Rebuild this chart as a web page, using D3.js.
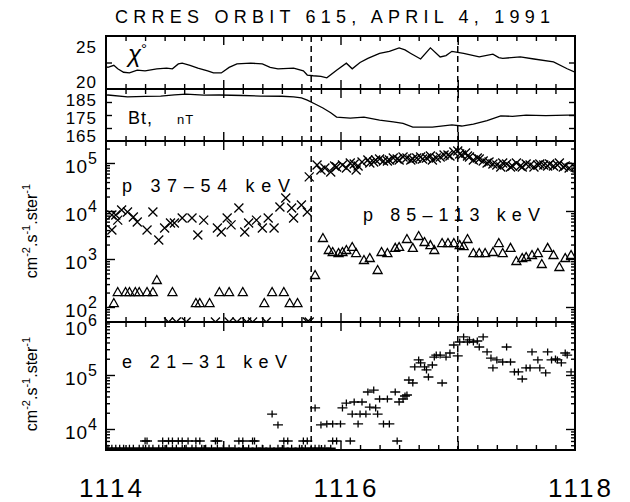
<!DOCTYPE html>
<html>
<head>
<meta charset="utf-8">
<script src="https://cdn.jsdelivr.net/npm/d3@7"></script>
<style>
  body { margin: 0; background: #fff; }
  text { font-family: "Liberation Sans", Arial, sans-serif; fill: #000; }
</style>
</head>
<body>
<svg id="chart" width="630" height="502"></svg>
<script>
// time is seconds after 11:14:00 UT, axis labelled HHMM
const xTickLabels = ["1114", "1116", "1118"]
const xLabelTimes = [0, 120, 240]
const dashTimes = [105, 180]

// pitch angle chi (deg)
const chiData = [[0,22.2],[1,22.1],[4,22.4],[6,21.9],[9,21.4],[12,21.3],[16,21.7],[20,21.6],[26,21.9],[31,22.0],
  [34,21.9],[37,22.6],[39,22.7],[43,22.4],[47,22.0],[52,21.6],[55,21.3],[59,21.3],[63,22.1],[67,22.6],[74,22.7],
  [80,22.6],[84,22.1],[88,21.9],[96,22.0],[101,21.6],[103,21.0],[106,20.9],[110,20.8],[113,20.6],[118,21.7],
  [123,22.7],[126,21.9],[130,22.8],[134,23.4],[140,24.1],[145,24.4],[150,24.9],[153,24.6],[156,24.1],[161,23.3],
  [166,24.9],[171,23.6],[174,23.8],[177,24.4],[183,24.1],[191,23.6],[198,24.0],[201,23.5],[203,23.4],[212,23.6],
  [219,23.3],[229,22.9],[236,21.9],[240,21.4]]

// total field Bt (nT)
const btData = [[0,188],[1,188.1],[11,187.0],[20,187.3],[28,187.5],[35,188.2],[41,188.6],[50,188.0],[58,188.1],
  [70,187.8],[79,187.5],[90,187.4],[96,187.0],[100,186.5],[103,185.2],[107,183.0],[111,180.7],[115,178.0],
  [118,175.6],[125,175.0],[132,175.5],[140,173.9],[147,172.8],[152,172.0],[157,169.9],[167,169.9],[177,171.1],
  [182,170.5],[188,171.6],[195,173.5],[202,176.2],[208,176.0],[215,176.7],[225,176.4],[236,176.7],[240,176.7]]

// p 37-54 keV flux
const p37Data = [[3,8260],[3,4020],[5,8260],[6,6460],[8,10500],[11,9550],[14,7500],[16,5890],[21,4020],[24,9550],
  [27,2490],[30,4430],[33,5620],[35,5620],[39,7150],[44,7150],[47,3160],[50,6460],[57,4430],[59,3650],[62,7150],
  [64,5130],[68,11500],[71,3650],[73,5620],[77,6460],[80,4430],[83,7150],[86,4430],[89,12100],[92,18600],
  [95,11500],[96,7150],[100,13300],[103,9550],[104,51300],
  [108,90800],[110,71400],[112,78700],[115,64900],[117,86600],[118,82500],[121,90800],[123,78700],[125,100000],
  [127,95300],[128,71400],[129,86600],[131,105000],[134,115000],[135,100000],[137,105000],[138,115000],
  [140,121000],[142,110000],[144,110000],[145,115000],[147,127000],[149,121000],[150,115000],[152,133000],
  [154,127000],[156,115000],[157,121000],[159,127000],[161,133000],[162,121000],[164,127000],[166,140000],
  [167,115000],[169,127000],[171,133000],[173,147000],[175,147000],[176,140000],[178,170000],[180,178000],
  [181,154000],[182,147000],[184,162000],[185,140000],[186,133000],[188,115000],[190,127000],[191,121000],
  [193,110000],[195,100000],[196,105000],[198,95300],[200,90800],[202,82500],[203,100000],[205,95300],
  [207,82500],[208,86600],[210,100000],[212,86600],[213,82500],[215,95300],[217,90800],[219,82500],[221,90800],
  [222,95300],[224,90800],[226,86600],[227,95300],[229,86600],[231,90800],[232,100000],[234,82500],[235,86600],
  [237,78700],[240,82500]]
const p37Floor = [32, 36, 41, 56, 63, 67, 72, 75, 82, 103, 104]

// p 85-113 keV flux
const p85Data = [[4,121],[6,205],[10,205],[12,205],[15,205],[17,205],[21,205],[24,205],[26,365],[34,205],
  [46,121],[48,121],[53,121],[58,205],[63,205],[70,205],[81,121],[85,205],[91,205],[94,121],[98,121],
  [107,464],[111,2740],[114,1540],[116,1400],[119,1330],[121,1400],[123,1540],[126,1780],[128,1330],[132,953],
  [135,1050],[139,590],[141,1400],[144,1330],[148,1700],[150,1780],[154,2610],[157,1700],[160,3010],[163,2260],
  [166,1950],[168,1540],[172,2150],[175,2150],[178,2150],[181,1950],[183,1860],[185,2610],[188,1330],[191,1330],
  [194,1330],[198,1400],[201,2150],[203,1330],[207,1700],[210,908],[213,1050],[215,1100],[218,1210],[221,1330],
  [223,787],[226,1700],[229,1210],[232,681],[235,1050],[238,1210]]

// e 21-31 keV flux
const e21Data = [[20,6000],[21,6000],[29,6000],[32,6000],[34,6000],[37,6000],[39,6000],[42,6000],[46,6000],
  [48,6000],[56,6000],[57,6000],[68,6000],[70,6000],[75,6000],[76,6000],[85,18900],[88,11900],[91,6000],
  [93,6000],[101,6000],[103,6000],[107,24500],[110,11900],[113,12400],[116,12400],[116,6000],[118,6000],
  [120,12400],[121,24500],[123,30200],[125,6000],[126,18900],[127,31600],[129,12400],[130,18900],[131,31600],
  [133,18900],[134,48400],[135,25500],[137,52600],[138,24500],[139,18900],[140,35900],[142,12400],[144,35900],
  [145,12400],[148,48400],[149,6000],[150,31600],[152,35900],[153,40800],[154,42600],[155,80700],[157,71100],
  [158,141000],[160,190000],[161,167000],[163,141000],[164,124000],[165,91800],[167,153000],[168,215000],
  [169,234000],[171,234000],[172,71100],[174,215000],[176,255000],[178,359000],[180,225000],[181,408000],
  [183,506000],[185,408000],[186,445000],[188,408000],[190,426000],[191,330000],[193,506000],[195,267000],
  [197,206000],[198,135000],[200,190000],[203,174000],[205,330000],[207,174000],[209,114000],[211,114000],
  [213,84300],[215,135000],[217,135000],[218,267000],[221,190000],[222,135000],[225,109000],[226,267000],
  [228,190000],[230,198000],[231,190000],[233,167000],[235,255000],[236,234000],[238,114000]]
const e21Floor = [1, 3, 5, 7, 9, 12, 14, 17, 19, 22, 24, 27, 29, 31, 34, 36, 39, 41, 44, 46, 49, 51, 54, 57,
  60, 63, 66, 70, 73, 77, 80, 84, 88, 91, 95, 99, 102, 105, 107, 109, 112, 115]
const e21FloorValue = 4400

const svg = d3.select('#chart')

const left = 106, right = 575
const x = d3.scaleLinear().domain([0, 240]).range([left, right])

const yChi = d3.scaleLinear().domain([19, 26.6]).range([89, 36])
const yBt = d3.scaleLinear().domain([162, 191.5]).range([141, 89])
const yP = d3.scaleLog().domain([48.7, 2.87e5]).range([322, 141])
const yE = d3.scaleLog().domain([4084, 9.57e5]).range([450, 322])

const panels = [
  {y: yChi, top: 36, bottom: 89},
  {y: yBt, top: 89, bottom: 141},
  {y: yP, top: 141, bottom: 322},
  {y: yE, top: 322, bottom: 450}
]

// clip paths
const defs = svg.append('defs')
panels.forEach((p, i) => {
  defs.append('clipPath').attr('id', 'clip' + i)
    .append('rect').attr('x', left).attr('y', p.top).attr('width', right - left).attr('height', p.bottom - p.top)
})

// x ticks, inward, top and bottom of each panel
const minorT = d3.range(10, 240, 10).filter(t => t % 60)
const majorT = [60, 120, 180]

function noDomain(g) {
  g.select('.domain').remove()
  g.selectAll('.tick line').attr('stroke', '#000').attr('stroke-width', 1.4)
  g.selectAll('.tick text').remove()
}

panels.forEach(p => {
  [[minorT, 5], [majorT, 9]].forEach(([vals, len]) => {
    svg.append('g').attr('transform', `translate(0,${p.top})`)
      .call(d3.axisTop(x).tickValues(vals).tickSize(-len)).call(noDomain)
    svg.append('g').attr('transform', `translate(0,${p.bottom})`)
      .call(d3.axisBottom(x).tickValues(vals).tickSize(-len)).call(noDomain)
  })
})

// y ticks
function yTicks(scale, vals, len) {
  svg.append('g').attr('transform', `translate(${left},0)`)
    .call(d3.axisLeft(scale).tickValues(vals).tickSize(-len)).call(noDomain)
  svg.append('g').attr('transform', `translate(${right},0)`)
    .call(d3.axisRight(scale).tickValues(vals).tickSize(-len)).call(noDomain)
}
yTicks(yChi, [yChi.invert(62.5)], 6)
yTicks(yBt, [102, 115, 128].map(v => yBt.invert(v)), 6)

function logTicks(scale) {
  const [lo, hi] = scale.domain()
  const major = [], minor = []
  for (let k = 1; k <= 6; k++) {
    for (let m = 1; m <= 9; m++) {
      const v = m * Math.pow(10, k)
      if (v <= lo || v >= hi) continue
      if (m === 1) major.push(v); else minor.push(v)
    }
  }
  yTicks(scale, major, 9)
  yTicks(scale, minor, 4)
}
logTicks(yP)
logTicks(yE)

// frames
panels.forEach(p => {
  svg.append('rect').attr('x', left).attr('y', p.top).attr('width', right - left).attr('height', p.bottom - p.top)
    .attr('fill', 'none').attr('stroke', '#000').attr('stroke-width', 2)
})

// dashed event lines
svg.selectAll('.evt').data(dashTimes).enter().append('line')
  .attr('x1', d => x(d)).attr('x2', d => x(d)).attr('y1', 36).attr('y2', 450)
  .attr('stroke', '#000').attr('stroke-width', 1.5).attr('stroke-dasharray', '6,4')

// lines
const chiLine = d3.line().x(d => x(d[0])).y(d => yChi(d[1]))
svg.append('path').datum(chiData).attr('d', chiLine).attr('clip-path', 'url(#clip0)')
  .attr('fill', 'none').attr('stroke', '#000').attr('stroke-width', 1.3)
const btLine = d3.line().x(d => x(d[0])).y(d => yBt(d[1]))
svg.append('path').datum(btData).attr('d', btLine).attr('clip-path', 'url(#clip1)')
  .attr('fill', 'none').attr('stroke', '#000').attr('stroke-width', 1.3)

// markers
const crossPath = 'M-4.5,-4.5L4.5,4.5M-4.5,4.5L4.5,-4.5'
const triPath = 'M0,-4.5L4.5,3.5L-4.5,3.5Z'
const plusPath = 'M-5,0H5M0,-3.5V3.5'

function markers(data, scale, path, clip) {
  svg.append('g').attr('clip-path', `url(#${clip})`)
    .selectAll('path').data(data).enter().append('path')
    .attr('d', path)
    .attr('transform', d => `translate(${x(d[0])},${scale(d[1])})`)
    .attr('fill', 'none').attr('stroke', '#000').attr('stroke-width', 1.3)
}
markers(p37Data, yP, crossPath, 'clip2')
markers(p37Floor.map(t => [t, yP.domain()[0]]), yP, crossPath, 'clip2')
markers(p85Data, yP, triPath, 'clip2')
markers(e21Data, yE, plusPath, 'clip3')
markers(e21Floor.map(t => [t, e21FloorValue]), yE, plusPath, 'clip3')

// y tick labels
function linLabels(scale, vals) {
  svg.append('g').selectAll('text').data(vals).enter().append('text')
    .attr('x', 97).attr('y', d => scale(d) + 6)
    .attr('text-anchor', 'end').attr('font-size', 17).attr('letter-spacing', 1)
    .text(d => d)
}
linLabels(yChi, [20, 25])
linLabels(yBt, [165, 175, 185])

function logLabels(scale, exps, shift) {
  const t = svg.append('g').selectAll('text').data(exps).enter().append('text')
    .attr('x', 98).attr('y', d => scale(Math.pow(10, d)) + 10 + (shift[d] || 0))
    .attr('text-anchor', 'end').attr('font-size', 19).attr('letter-spacing', 1)
  t.append('tspan').text('10')
  t.append('tspan').attr('dy', -9).attr('font-size', 16).text(d => d)
}
logLabels(yP, [2, 3, 4, 5], {})
logLabels(yE, [4, 5, 6], {6: 4})

// flux unit titles
function unitTitle(cy) {
  const t = svg.append('text').attr('transform', `translate(37,${cy}) rotate(-90)`)
    .attr('text-anchor', 'middle').attr('font-size', 16)
  const parts = [['cm', 0], ['-2', 1], ['.s', 0], ['-1', 1], ['.ster', 0], ['-1', 1]]
  let up = false
  parts.forEach(([s, sup]) => {
    const sp = t.append('tspan').text(s)
    if (sup && !up) { sp.attr('dy', -7).attr('font-size', 11); up = true }
    else if (!sup && up) { sp.attr('dy', 7); up = false }
    else if (sup) sp.attr('font-size', 11)
  })
}
unitTitle(231)
unitTitle(384)

// panel labels
const chiLab = svg.append('text').attr('x', 128).attr('y', 62).attr('font-size', 24).attr('font-style', 'italic')
chiLab.append('tspan').text('χ')
chiLab.append('tspan').attr('dy', -8).attr('font-size', 15).attr('font-style', 'normal').text('°')

const btLab = svg.append('text').attr('y', 124).attr('font-size', 18).attr('letter-spacing', 1)
btLab.append('tspan').attr('x', 128).text('Bt,')
btLab.append('tspan').attr('x', 177).attr('font-size', 13).text('nT')

svg.append('text').attr('x', 122).attr('y', 192).attr('font-size', 18)
  .attr('textLength', 168).attr('lengthAdjust', 'spacing').text('p 37–54 keV')
svg.append('text').attr('x', 363).attr('y', 221).attr('font-size', 18)
  .attr('textLength', 177).attr('lengthAdjust', 'spacing').text('p 85–113 keV')
svg.append('text').attr('x', 122).attr('y', 368).attr('font-size', 18)
  .attr('textLength', 165).attr('lengthAdjust', 'spacing').text('e 21–31 keV')

// title
svg.append('text').attr('x', 115).attr('y', 23).attr('font-size', 18)
  .attr('textLength', 435).attr('lengthAdjust', 'spacing').text('CRRES ORBIT 615, APRIL 4, 1991')

// x labels
svg.selectAll('.xl').data(xLabelTimes).enter().append('text')
  .attr('x', d => x(d) + 6).attr('y', 497).attr('text-anchor', 'middle')
  .attr('font-size', 26).attr('letter-spacing', 3)
  .text((d, i) => xTickLabels[i])
</script>
</body>
</html>
